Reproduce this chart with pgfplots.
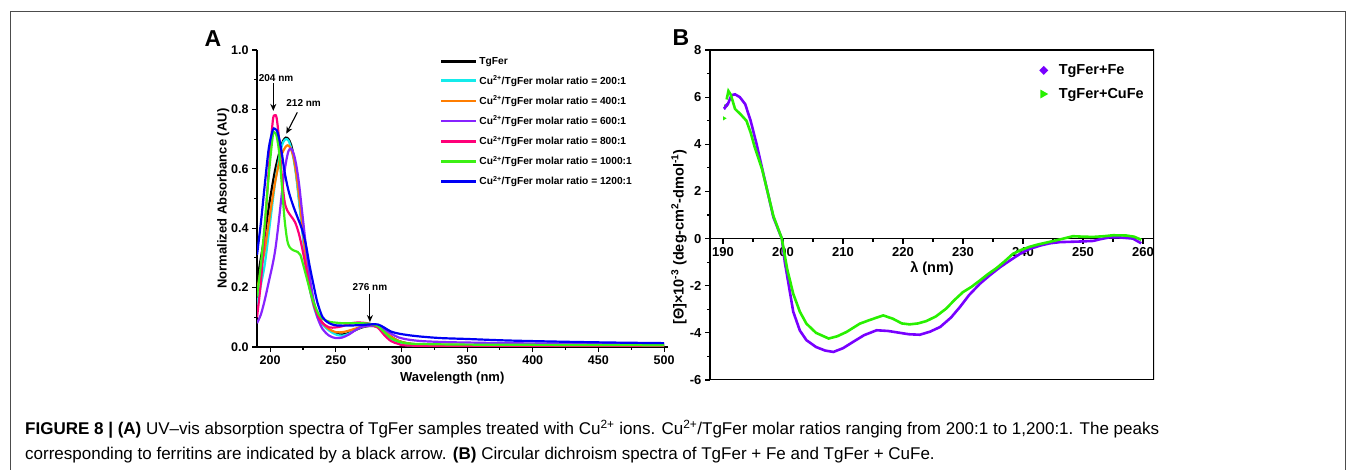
\documentclass[border=0pt]{standalone}
\usepackage{fontspec}
\setmainfont{Liberation Sans}
\usepackage{pgfplots}
\pgfplotsset{compat=1.18}
\usetikzlibrary{arrows.meta}
\definecolor{cCy}{RGB}{20,235,235}
\definecolor{cOr}{RGB}{255,125,0}
\definecolor{cPu}{RGB}{135,35,255}
\definecolor{cPk}{RGB}{255,0,120}
\definecolor{cGr}{RGB}{60,240,20}
\definecolor{cBl}{RGB}{0,0,245}
\definecolor{bPu}{RGB}{120,0,255}
\definecolor{bGr}{RGB}{40,240,0}
\begin{document}
\begin{tikzpicture}[x=1pt,y=1pt]
\path[use as bounding box] (0,0) rectangle (1355,470);
\draw[line width=1pt, black!70] (10,-5) -- (10,458.5) -- (1345,458.5) -- (1345,-5);
\node[anchor=base west, inner sep=0pt, font=\fontsize{17}{19}\selectfont] at (25,35) {\textbf{FIGURE 8 | (A)} UV–vis absorption spectra of TgFer samples treated with Cu\textsuperscript{2+} ions. Cu\textsuperscript{2+}/TgFer molar ratios ranging from 200:1 to 1,200:1. The peaks};
\node[anchor=base west, inner sep=0pt, font=\fontsize{17}{19}\selectfont] at (25,10) {corresponding to ferritins are indicated by a black arrow. \textbf{(B)} Circular dichroism spectra of TgFer + Fe and TgFer + CuFe.};
\node[font=\bfseries\fontsize{23}{25}\selectfont] at (213,431) {A};
\node[font=\bfseries\fontsize{23}{25}\selectfont] at (681,432) {B};

\begin{axis}[
  at={(257pt,123pt)}, anchor=south west, scale only axis,
  width=411pt, height=297pt,
  xmin=190, xmax=503, ymin=0, ymax=1,
  axis lines=left, axis line style={-, line width=1.3pt},
  tick align=outside, major tick length=5pt, minor tick length=3pt,
  every tick/.style={line width=1.1pt, black},
  xtick={200,250,...,500}, minor x tick num=1,
  ytick={0,0.2,...,1.0}, minor y tick num=1,
  /pgf/number format/assume math mode=true,
  tick label style={font=\bfseries\fontsize{12.5}{14}\selectfont},
  yticklabel style={/pgf/number format/fixed, /pgf/number format/fixed zerofill, /pgf/number format/precision=1},
  xlabel={Wavelength (nm)}, ylabel={Normalized Absorbance (AU)},
  label style={font=\bfseries\fontsize{13}{15}\selectfont},
  xlabel style={at={(axis description cs:0.475,-0.104)}, anchor=center},
  ylabel style={at={(axis description cs:-0.082,0.5)}, anchor=center},
  legend cell align=left,
  legend style={draw=none, fill=none, font=\bfseries\fontsize{10.2}{12}\selectfont, row sep=6pt, at={(0.444,0.983)}, anchor=north west, inner sep=0pt},
  legend image code/.code={\draw[#1, line width=2.8pt] (0pt,0pt) -- (35pt,0pt);},
  every axis plot/.append style={line width=2.2pt, smooth, tension=0.5},
]
\addplot[black] coordinates {(190,0.22)(193,0.30)(196,0.38)(200,0.50)(204,0.60)(208,0.67)(210,0.695)(212,0.705)(214,0.70)(216,0.68)(218,0.64)(220,0.58)(222,0.50)(224,0.42)(226,0.34)(228,0.27)(230,0.21)(233,0.15)(236,0.11)(240,0.08)(245,0.058)(250,0.045)(255,0.042)(260,0.047)(265,0.057)(270,0.066)(276,0.071)(282,0.068)(287,0.055)(292,0.035)(298,0.02)(305,0.012)(315,0.008)(350,0.006)(420,0.005)(500,0.005)};
\addlegendentry{TgFer}
\addplot[cCy] coordinates {(190,0.14)(193,0.21)(196,0.28)(200,0.42)(204,0.56)(208,0.66)(210,0.69)(212,0.70)(214,0.695)(216,0.67)(218,0.63)(220,0.57)(222,0.49)(224,0.41)(226,0.33)(228,0.26)(230,0.20)(233,0.14)(236,0.10)(240,0.075)(245,0.055)(250,0.042)(255,0.038)(260,0.045)(265,0.058)(270,0.068)(276,0.072)(282,0.068)(287,0.05)(292,0.025)(298,0.012)(305,0.006)(330,0.004)(420,0.004)(500,0.004)};
\addlegendentry{Cu\textsuperscript{2+}/TgFer molar ratio = 200:1}
\addplot[cOr] coordinates {(190,0.19)(193,0.26)(196,0.33)(200,0.45)(204,0.56)(208,0.64)(212,0.675)(214,0.678)(216,0.665)(218,0.635)(220,0.58)(222,0.51)(224,0.43)(226,0.35)(228,0.28)(230,0.22)(233,0.155)(236,0.11)(240,0.08)(245,0.06)(250,0.05)(255,0.05)(260,0.055)(265,0.062)(270,0.068)(276,0.072)(282,0.068)(287,0.055)(292,0.035)(298,0.02)(305,0.012)(315,0.009)(350,0.007)(420,0.006)(500,0.005)};
\addlegendentry{Cu\textsuperscript{2+}/TgFer molar ratio = 400:1}
\addplot[cPu] coordinates {(190,0.08)(193,0.11)(196,0.16)(199,0.22)(202,0.28)(204,0.33)(206,0.40)(208,0.48)(210,0.56)(212,0.62)(214,0.66)(216,0.668)(218,0.65)(220,0.61)(222,0.55)(224,0.47)(226,0.39)(228,0.31)(230,0.24)(233,0.16)(236,0.10)(240,0.06)(245,0.038)(250,0.03)(255,0.032)(260,0.042)(265,0.057)(270,0.068)(276,0.072)(282,0.07)(287,0.06)(292,0.045)(298,0.032)(305,0.025)(315,0.02)(330,0.017)(350,0.015)(400,0.012)(500,0.01)};
\addlegendentry{Cu\textsuperscript{2+}/TgFer molar ratio = 600:1}
\addplot[cPk] coordinates {(190,0.10)(193,0.22)(196,0.40)(199,0.60)(202,0.76)(203.5,0.78)(205,0.77)(207,0.69)(209,0.57)(211,0.49)(213,0.46)(216,0.44)(219,0.42)(222,0.38)(225,0.32)(228,0.25)(231,0.18)(234,0.13)(237,0.10)(240,0.08)(245,0.066)(250,0.066)(255,0.07)(260,0.078)(265,0.082)(270,0.082)(276,0.078)(282,0.065)(287,0.04)(292,0.02)(298,0.01)(305,0.005)(350,0.003)(500,0.003)};
\addlegendentry{Cu\textsuperscript{2+}/TgFer molar ratio = 800:1}
\addplot[cGr] coordinates {(190,0.17)(193,0.28)(196,0.42)(199,0.58)(202,0.71)(203.5,0.722)(205,0.71)(207,0.65)(209,0.54)(211,0.43)(213,0.36)(215,0.335)(218,0.325)(221,0.32)(223,0.31)(225,0.28)(228,0.23)(231,0.18)(234,0.14)(237,0.11)(240,0.095)(245,0.085)(250,0.082)(255,0.08)(260,0.08)(265,0.08)(270,0.08)(276,0.078)(282,0.07)(287,0.05)(292,0.03)(298,0.018)(305,0.012)(315,0.01)(350,0.008)(420,0.007)(500,0.006)};
\addlegendentry{Cu\textsuperscript{2+}/TgFer molar ratio = 1000:1}
\addplot[cBl] coordinates {(190,0.31)(193,0.42)(196,0.55)(199,0.67)(202,0.73)(203.5,0.735)(205,0.73)(207,0.70)(209,0.65)(211,0.59)(213,0.545)(215,0.51)(218,0.47)(221,0.435)(224,0.40)(227,0.35)(230,0.275)(233,0.21)(236,0.15)(240,0.10)(245,0.08)(250,0.073)(255,0.072)(260,0.072)(265,0.073)(270,0.074)(276,0.076)(282,0.076)(287,0.065)(292,0.052)(298,0.045)(305,0.04)(315,0.035)(330,0.03)(350,0.027)(380,0.022)(420,0.018)(460,0.015)(500,0.013)};
\addlegendentry{Cu\textsuperscript{2+}/TgFer molar ratio = 1200:1}
\draw[-{Stealth[length=7pt,width=6pt]}, line width=1.1pt] (axis cs:202.4,0.888) -- (axis cs:202.4,0.795);
\node[font=\bfseries\fontsize{10}{12}\selectfont] at (axis cs:204.5,0.905) {204 nm};
\draw[-{Stealth[length=7pt,width=6pt]}, line width=1.1pt] (axis cs:220.7,0.79) -- (axis cs:212.3,0.718);
\node[font=\bfseries\fontsize{10}{12}\selectfont] at (axis cs:225.5,0.82) {212 nm};
\draw[-{Stealth[length=7pt,width=6pt]}, line width=1.1pt] (axis cs:276,0.18) -- (axis cs:276,0.084);
\node[font=\bfseries\fontsize{10}{12}\selectfont] at (axis cs:276,0.203) {276 nm};
\end{axis}

\begin{axis}[
  at={(710pt,90pt)}, anchor=south west, scale only axis,
  width=444pt, height=330pt,
  xmin=187.83, xmax=261.83, ymin=-6, ymax=8,
  axis x line=middle, axis y line=left, axis line style={-, line width=1.3pt},
  hide obscured x ticks=false, hide obscured y ticks=false,
  tick align=outside, major tick length=5pt, minor tick length=3pt,
  every tick/.style={line width=1.1pt, black},
  xtick={190,200,...,260}, minor x tick num=1,
  ytick={-6,-4,...,8}, minor y tick num=1,
  /pgf/number format/assume math mode=true,
  tick label style={font=\bfseries\fontsize{13}{15}\selectfont},
  xlabel={λ (nm)},
  ylabel={[Θ]×10\textsuperscript{-3} (deg-cm\textsuperscript{2}-dmol\textsuperscript{-1})},
  label style={font=\bfseries\fontsize{14.5}{16}\selectfont},
  xlabel style={at={(axis description cs:0.5,0.339)}, anchor=center},
  ylabel style={at={(axis description cs:-0.07,0.433)}, anchor=center},
  legend cell align=left,
  legend style={draw=none, fill=none, font=\bfseries\fontsize{14.5}{16}\selectfont, row sep=8pt, at={(0.740,0.962)}, anchor=north west, inner sep=0pt},
]
\draw[line width=1.3pt] (rel axis cs:0,0) rectangle (rel axis cs:1,1);
\addlegendimage{legend image code/.code={\path[draw=none] (0pt,0pt) (18pt,0pt); \path[draw=none, fill=bPu] (5pt,4.5pt) -- (9.5pt,0pt) -- (5pt,-4.5pt) -- (0.5pt,0pt) -- cycle;}}
\addlegendentry{TgFer+Fe}
\addlegendimage{legend image code/.code={\path[draw=none] (0pt,0pt) (18pt,0pt); \path[draw=none, fill=bGr] (1.5pt,4.5pt) -- (9.5pt,0pt) -- (1.5pt,-4.5pt) -- cycle;}}
\addlegendentry{TgFer+CuFe}
\addplot[bPu, line width=2.6pt, forget plot] coordinates {(190.3,5.6)(190.8,5.7)(191.4,6.08)(192,6.12)(192.8,6.0)(193.7,5.7)(194.6,5.0)(195.6,4.0)(196.5,3.0)(197.5,1.9)(198.4,0.9)(199.8,0)(200.3,-1.0)(200.9,-1.9)(201.7,-3.1)(202.8,-3.9)(203.9,-4.31)(205.5,-4.6)(207,-4.75)(208.4,-4.81)(210,-4.65)(211.7,-4.38)(213.5,-4.1)(215.6,-3.89)(217.5,-3.92)(219.5,-4.0)(221,-4.06)(222.8,-4.08)(224.5,-3.95)(226.2,-3.75)(228,-3.35)(229.5,-2.9)(231,-2.4)(232.8,-1.92)(234.5,-1.55)(236.2,-1.21)(238,-0.9)(239.5,-0.65)(241,-0.45)(242.8,-0.3)(244.5,-0.2)(246.2,-0.15)(249,-0.13)(251.7,-0.1)(253,-0.02)(254.4,0.05)(256,0.05)(258.3,0.0)(259.7,-0.2)};
\addplot[bGr, line width=2.6pt, forget plot] coordinates {(190.6,5.9)(190.9,6.26)(191.3,6.1)(192,5.5)(193,5.25)(193.9,5.0)(194.6,4.5)(195.3,3.86)(196.5,2.95)(197.5,1.9)(198.4,0.95)(199.8,0)(200.7,-1.3)(201.7,-2.34)(202.8,-3.1)(203.9,-3.61)(205.5,-4.0)(207.6,-4.24)(209,-4.15)(210.6,-3.96)(212.8,-3.61)(214.5,-3.45)(216.7,-3.26)(218.3,-3.4)(219.8,-3.6)(221.1,-3.64)(222.5,-3.6)(223.9,-3.5)(225.5,-3.3)(227.2,-2.97)(228.6,-2.6)(230,-2.27)(231.4,-2.05)(232.8,-1.78)(234.2,-1.5)(235.6,-1.25)(237,-0.95)(238.3,-0.65)(239.7,-0.48)(241.1,-0.35)(242.5,-0.25)(243.9,-0.17)(246.1,-0.04)(248.3,0.1)(250,0.08)(251.7,0.07)(253.5,0.1)(255,0.14)(257.2,0.13)(258.5,0.08)(259.7,-0.05)};
\addplot[bGr, only marks, mark=triangle*, mark size=2pt, mark options={rotate=-90}, forget plot] coordinates {(190.2,5.1)(190.4,5.6)};
\addplot[bPu, only marks, mark=diamond*, mark size=2pt, forget plot] coordinates {(190.3,5.55)(190.6,5.65)};
\end{axis}
\end{tikzpicture}
\end{document}
